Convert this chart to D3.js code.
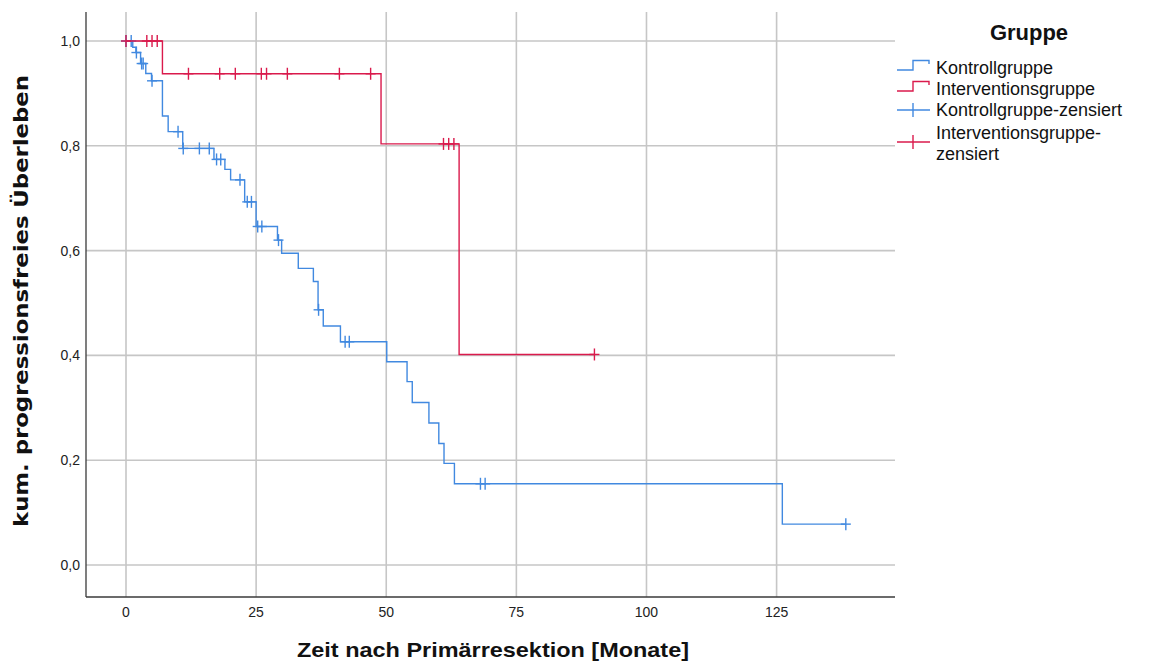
<!DOCTYPE html>
<html>
<head>
<meta charset="utf-8">
<script src="https://cdn.jsdelivr.net/npm/d3@7"></script>
<style>
  html, body { margin: 0; padding: 0; background: #ffffff; }
  svg { display: block; }
</style>
</head>
<body>
<svg id="chart" width="1163" height="662"></svg>
<script>
// ---------- data ----------
const xTicks = [0, 25, 50, 75, 100, 125];
const yTicks = [0, 0.2, 0.4, 0.6, 0.8, 1.0];
const xTitle = "Zeit nach Primärresektion [Monate]";
const yTitle = "kum. progressionsfreies Überleben";
const legendTitle = "Gruppe";
const legendLabels = ["Kontrollgruppe", "Interventionsgruppe", "Kontrollgruppe-zensiert", "Interventionsgruppe-zensiert"];

// Kontrollgruppe: step times (months) and survival after each step
const kontrollTimes = [0, 1.3, 1.9, 2.8, 3.8, 4.9, 7.0, 8.1, 10.9, 16.9, 19.0, 20.1, 22.8, 25.0, 29.1, 29.9, 33.1, 36.0, 36.9, 37.9, 41.2, 50.1, 54.0, 55.0, 58.2, 60.1, 61.1, 63.1, 126.1];
const kontrollSurv  = [1.0, 0.988, 0.978, 0.957, 0.938, 0.924, 0.857, 0.827, 0.795, 0.774, 0.755, 0.735, 0.693, 0.646, 0.620, 0.595, 0.566, 0.541, 0.487, 0.456, 0.426, 0.388, 0.350, 0.310, 0.271, 0.232, 0.194, 0.155, 0.078];
const kontrollEnd = 138.3;
const kontrollCensor = [0, 1.0, 2.0, 3.0, 3.3, 5.0, 10.0, 11.0, 14.1, 16.0, 17.4, 18.2, 21.9, 23.3, 24.1, 25.3, 26.1, 29.3, 37.0, 42.1, 42.9, 68.1, 69.0, 138.3];

// Interventionsgruppe
const interventionTimes = [0, 7, 49, 64];
const interventionSurv  = [1.0, 0.9375, 0.8036, 0.4018];
const interventionEnd = 90;
const interventionCensor = [0, 4, 5, 6, 12, 18, 21, 26, 27, 31, 41, 47, 61, 62, 63, 90];

// ---------- style ----------
const blue = "#4189e0";
const red = "#da1a4c";
const gridColor = "#c6c6c6";
const axisColor = "#3a3a3a";

const svg = d3.select("#chart");

const plot = { left: 86, right: 895, top: 12, bottom: 597 };
const x = d3.scaleLinear().domain([0, 125]).range([126, 776.6]);
const y = d3.scaleLinear().domain([0, 1]).range([565, 41]);

// gridlines
const g = svg.append("g");
g.selectAll("line.hgrid").data(yTicks).join("line")
  .attr("x1", plot.left).attr("x2", plot.right)
  .attr("y1", d => y(d)).attr("y2", d => y(d))
  .attr("stroke", gridColor).attr("stroke-width", 1.6);
g.selectAll("line.vgrid").data(xTicks).join("line")
  .attr("y1", plot.top).attr("y2", plot.bottom)
  .attr("x1", d => x(d)).attr("x2", d => x(d))
  .attr("stroke", gridColor).attr("stroke-width", 1.6);

// axes lines
svg.append("line").attr("x1", plot.left).attr("x2", plot.left)
  .attr("y1", plot.top).attr("y2", plot.bottom)
  .attr("stroke", axisColor).attr("stroke-width", 1.3);
svg.append("line").attr("x1", plot.left).attr("x2", plot.right)
  .attr("y1", plot.bottom).attr("y2", plot.bottom)
  .attr("stroke", axisColor).attr("stroke-width", 1.3);

// tick labels
const fmtY = d => d3.format(".1f")(d).replace(".", ",");
svg.append("g").selectAll("text").data(yTicks).join("text")
  .attr("x", 80).attr("y", d => y(d) + 5)
  .attr("text-anchor", "end")
  .attr("font-family", "Liberation Sans, Arial, sans-serif")
  .attr("font-size", 14).attr("fill", "#222")
  .text(fmtY);
svg.append("g").selectAll("text").data(xTicks).join("text")
  .attr("x", d => x(d)).attr("y", 617)
  .attr("text-anchor", "middle")
  .attr("font-family", "Liberation Sans, Arial, sans-serif")
  .attr("font-size", 14).attr("fill", "#222")
  .text(d => d);

// axis titles
svg.append("text")
  .attr("x", 493).attr("y", 657)
  .attr("text-anchor", "middle")
  .attr("font-family", "Liberation Sans, Arial, sans-serif")
  .attr("font-weight", "bold").attr("font-size", 21).attr("fill", "#111")
  .attr("textLength", 392).attr("lengthAdjust", "spacingAndGlyphs")
  .text(xTitle);
svg.append("text")
  .attr("transform", "translate(28,301) rotate(-90)")
  .attr("text-anchor", "middle")
  .attr("font-family", "DejaVu Sans, sans-serif")
  .attr("font-weight", "bold").attr("font-size", 20).attr("fill", "#111")
  .attr("textLength", 452).attr("lengthAdjust", "spacingAndGlyphs")
  .text(yTitle);

// step curves
function stepPoints(times, surv, end) {
  const pts = times.map((t, i) => [t, surv[i]]);
  pts.push([end, surv[surv.length - 1]]);
  return pts;
}
function survAt(times, surv, t) {
  let v = surv[0];
  for (let i = 0; i < times.length; i++) if (times[i] <= t) v = surv[i];
  return v;
}
const line = d3.line().x(d => x(d[0])).y(d => y(d[1])).curve(d3.curveStepAfter);

function drawGroup(times, surv, end, censor, color) {
  svg.append("path")
    .attr("d", line(stepPoints(times, surv, end)))
    .attr("fill", "none").attr("stroke", color).attr("stroke-width", 1.4);
  const cg = svg.append("g").attr("stroke", color).attr("stroke-width", 1.4);
  censor.forEach(t => {
    const cx = x(t), cy = y(survAt(times, surv, t));
    cg.append("line").attr("x1", cx).attr("x2", cx).attr("y1", cy - 6).attr("y2", cy + 6);
    cg.append("line").attr("x1", cx - 5).attr("x2", cx + 5).attr("y1", cy).attr("y2", cy);
  });
}
drawGroup(kontrollTimes, kontrollSurv, kontrollEnd, kontrollCensor, blue);
drawGroup(interventionTimes, interventionSurv, interventionEnd, interventionCensor, red);

// legend
const lg = svg.append("g");
lg.append("text").attr("x", 1029).attr("y", 40).attr("text-anchor", "middle")
  .attr("font-family", "Liberation Sans, Arial, sans-serif")
  .attr("font-weight", "bold").attr("font-size", 22).attr("fill", "#111")
  .text(legendTitle);

const legX0 = 897, legX1 = 913, legX2 = 929;
// step icons
[[70, blue], [91, red]].forEach(([yy, c]) => {
  lg.append("path")
    .attr("d", `M${legX0},${yy}H${legX1}V${yy - 9.5}H${legX2}V${yy - 6}`)
    .attr("fill", "none").attr("stroke", c).attr("stroke-width", 1.4);
});
// censor icons
[[110, blue], [142, red]].forEach(([yy, c]) => {
  lg.append("line").attr("x1", legX0).attr("x2", legX2 + 1).attr("y1", yy).attr("y2", yy)
    .attr("stroke", c).attr("stroke-width", 1.4);
  lg.append("line").attr("x1", legX1).attr("x2", legX1).attr("y1", yy - 7).attr("y2", yy + 7)
    .attr("stroke", c).attr("stroke-width", 1.4);
});
const legFont = "Liberation Sans, Arial, sans-serif";
const legTexts = [
  [legendLabels[0], 73.5],
  [legendLabels[1], 95],
  [legendLabels[2], 116],
  ["Interventionsgruppe-", 139],
  ["zensiert", 160]
];
lg.selectAll("text.item").data(legTexts).join("text")
  .attr("x", 936).attr("y", d => d[1])
  .attr("font-family", legFont).attr("font-size", 18).attr("fill", "#111")
  .text(d => d[0]);
</script>
</body>
</html>
